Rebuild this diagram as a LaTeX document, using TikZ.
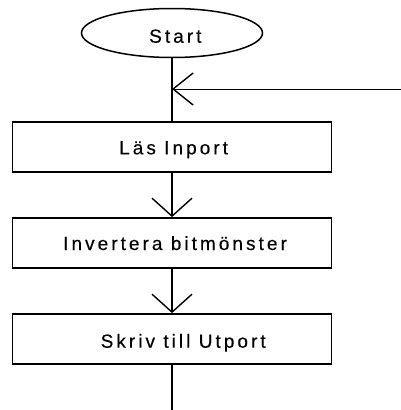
\documentclass[tikz,border=0pt]{standalone}
\usepackage{fontspec}
\setmainfont{Liberation Sans}[LetterSpace=16, FakeBold=0.3]
\usetikzlibrary{arrows.meta,shapes.geometric}

\begin{document}
\begin{tikzpicture}[x=1pt,y=-1pt,
  termshape/.style={draw, ellipse, line width=1.5pt, minimum width=181pt,
    minimum height=49pt, inner sep=0pt},
  stepbox/.style={draw, line width=1.8pt, minimum width=319pt,
    minimum height=50pt, inner sep=0pt},
  steptext/.style={inner sep=0pt, anchor=base west,
    font=\fontsize{19}{22}\selectfont},
  flow/.style={line width=1.7pt},
  flowarrow/.style={flow, -{Straight Barb[length=18pt, width=40pt, line width=1.4pt]}},
  feedback/.style={line width=1pt, -{Straight Barb[length=20pt, width=32pt, line width=1.4pt]}}]
  \useasboundingbox (0,0) rectangle (401,410);

  % shapes of the flow chart
  \node[termshape] (start)  at (172,33)  {};
  \node[stepbox]   (read)   at (172,147) {};
  \node[stepbox]   (invert) at (172,243) {};
  \node[stepbox]   (write)  at (172,339) {};
  \coordinate (join)   at (172,89);
  \coordinate (loopin) at (401,89);
  \coordinate (exit)   at (172,410);

  % texts
  \node[steptext] (tstart)  at (149,42.7)  {Start};
  \node[steptext] (tread)   at (119,154.3) {Läs Inport};
  \node[steptext] (tinvert) at (63,250)    {Invertera bitmönster};
  \node[steptext] (twrite)  at (100.5,347.7) {Skriv till Utport};

  % connectors
  \draw[flow] (start) -- (read);
  \draw[flowarrow] (read) -- (invert);
  \draw[flowarrow] (invert) -- (write);
  \draw[flow] (write) -- (exit);
  \draw[feedback] (loopin) -- (join);
\end{tikzpicture}
\end{document}
